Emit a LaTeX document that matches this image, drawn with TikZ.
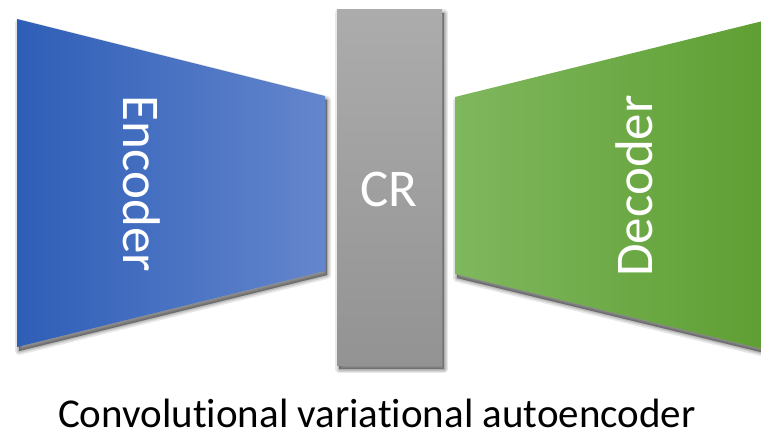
\documentclass[tikz,border=0pt]{standalone}
\usepackage{fontspec}
\setmainfont{Carlito}[Ligatures={NoCommon}]
\definecolor{encL}{HTML}{2E5EB7}
\definecolor{encR}{HTML}{6486CD}
\definecolor{decL}{HTML}{7FB75E}
\definecolor{decR}{HTML}{5D9E31}
\definecolor{crT}{HTML}{ACACAC}
\definecolor{crB}{HTML}{939393}
\tikzset{
  x=1pt, y=-1pt,
  label/.style={text=white, inner sep=0pt, font=\fontsize{53}{58}\selectfont},
  shadowlayer/.style={fill=black, draw=black, fill opacity=0.12, draw opacity=0.09, line join=round, line width=#1},
}
% soft offset shadow under a closed path
\newcommand{\softshade}[1]{%
  \begin{scope}[shift={(2,4)}]
    \foreach \w in {8,5,3,1}{\path[shadowlayer=\w] #1;}
  \end{scope}}
\begin{document}
\begin{tikzpicture}
  \useasboundingbox (0,0) rectangle (761,437);
  \clip (0,0) rectangle (761,437);
  % encoder trapezoid
  \softshade{(17,19) -- (325,96) -- (325,271) -- (17,347) -- cycle}
  \shade[left color=encL, right color=encR]
    (17,19) -- (325,96) -- (325,271) -- (17,347) -- cycle;
  \node[label, rotate=-90] (enc) at (142,184) {Encoder};
  % code representation block
  \softshade{(337,9) rectangle (442,365)}
  \shade[top color=crT, bottom color=crB] (337,9) rectangle (442,365);
  \node[label] (cr) at (389,189) {CR};
  % decoder trapezoid, running past the right edge
  \softshade{(455,97) -- (775,18) -- (775,352) -- (455,274) -- cycle}
  \shade[left color=decL, right color=decR]
    (455,97) -- (775,18) -- (775,352) -- (455,274) -- cycle;
  \node[label, rotate=90] (dec) at (634,186) {Decoder};
  % caption
  \node[inner sep=0pt, font=\fontsize{41}{46}\selectfont] (cap) at (377,413) {Convolutional variational autoencoder};
\end{tikzpicture}
\end{document}
